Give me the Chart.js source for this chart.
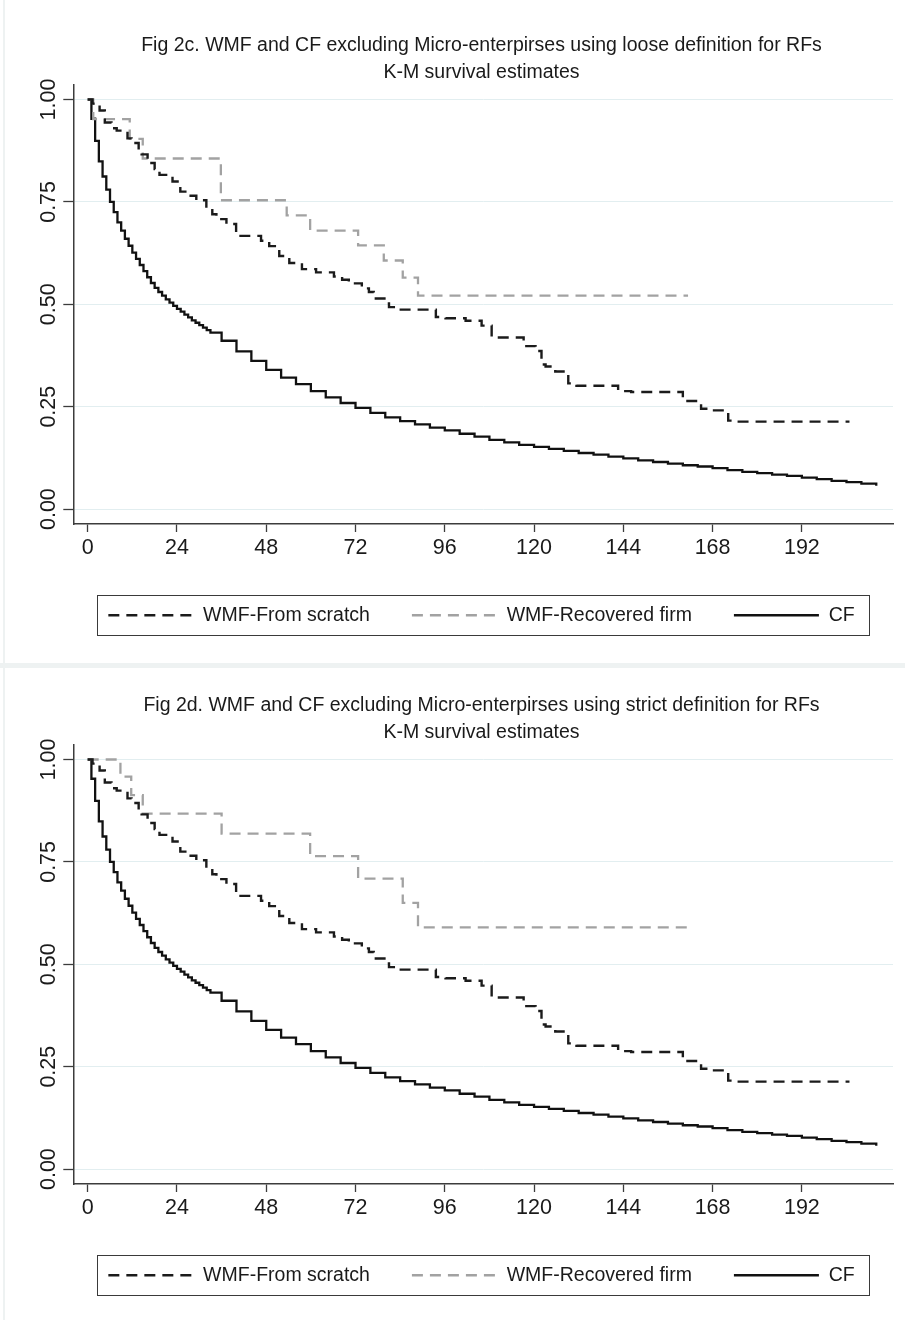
<!DOCTYPE html>
<html>
<head>
<meta charset="utf-8">
<script src="https://cdn.jsdelivr.net/npm/chart.js@4.4.1/dist/chart.umd.min.js"></script>
<style>
  html, body { margin: 0; padding: 0; background: #ffffff; }
  #page { position: relative; width: 905px; height: 1320px; overflow: hidden; background: #ffffff; }
  .panel { position: absolute; left: 0; width: 905px; height: 660px; }
  .panel canvas { position: absolute; left: 0; top: 0; }
  .sep { position: absolute; left: 0; top: 663px; width: 905px; height: 5px; background: #eef2f2; }
  .edge { position: absolute; left: 3px; top: 0; width: 2px; height: 1320px; background: #eef2f2; }
</style>
</head>
<body>
<div id="page">
  <div class="panel" style="top:0"><canvas id="fig2c" width="905" height="660"></canvas></div>
  <div class="panel" style="top:660px"><canvas id="fig2d" width="905" height="660"></canvas></div>
  <div class="sep"></div>
  <div class="edge"></div>
</div>
<script>
// ---- labels and ticks ----
const seriesNames = ['WMF-From scratch', 'WMF-Recovered firm', 'CF'];
const monthTicks = [0, 24, 48, 72, 96, 120, 144, 168, 192];
const survivalTicks = [0, 0.25, 0.5, 0.75, 1];
const titleLoose = ['Fig 2c. WMF and CF excluding Micro-enterpirses using loose definition for RFs', 'K-M survival estimates'];
const titleStrict = ['Fig 2d. WMF and CF excluding Micro-enterpirses using strict definition for RFs', 'K-M survival estimates'];

// ---- Kaplan-Meier step estimates (time in months, survival share) ----
const scratchMonths = [0, 1.3, 3.2, 4.6, 6.4, 7.8, 10.7, 11.8, 13.7, 14.5, 16.1, 18.0, 19.3, 22.8, 24.9, 27.3, 29.2, 31.9, 33.5, 34.6, 37.3, 39.9, 46.6, 48.8, 51.5, 54.2, 57.6, 61.4, 66.2, 68.4, 70.2, 73.7, 75.6, 76.9, 80.2, 81.0, 83.6, 93.6, 96.2, 101.6, 105.9, 108.6, 117.2, 120.4, 122.0, 123.1, 125.7, 129.2, 131.4, 142.6, 146.1, 160.0, 164.9, 167.6, 172.2, 174.1, 204.8];
const scratchSurvival = [1.000, 0.990, 0.973, 0.944, 0.930, 0.924, 0.905, 0.894, 0.875, 0.866, 0.845, 0.830, 0.816, 0.800, 0.775, 0.765, 0.754, 0.733, 0.720, 0.708, 0.696, 0.667, 0.655, 0.642, 0.618, 0.601, 0.586, 0.578, 0.568, 0.560, 0.551, 0.539, 0.530, 0.514, 0.502, 0.493, 0.487, 0.469, 0.466, 0.460, 0.448, 0.419, 0.398, 0.386, 0.353, 0.348, 0.336, 0.307, 0.301, 0.288, 0.286, 0.264, 0.245, 0.241, 0.216, 0.2135, 0.2135];

const recoveredLooseMonths = [0, 1.5, 11.3, 14.8, 35.8, 53.5, 59.8, 72.7, 79.6, 84.7, 88.8, 161.4];
const recoveredLooseSurvival = [1.000, 0.952, 0.904, 0.856, 0.754, 0.717, 0.680, 0.644, 0.607, 0.565, 0.521, 0.521];

const recoveredStrictMonths = [0, 8.8, 11.7, 14.8, 36.0, 59.8, 72.7, 84.7, 88.8, 161.4];
const recoveredStrictSurvival = [1.000, 0.958, 0.913, 0.868, 0.819, 0.764, 0.709, 0.650, 0.590, 0.590];

const cfMonths = [0, 1, 2, 3, 4, 5, 6, 7, 8, 9, 10, 11, 12, 13, 14, 15, 16, 17, 18, 19, 20, 21, 22, 23, 24, 25, 26, 27, 28, 29, 30, 31, 32, 33,
  36, 40, 44, 48, 52, 56, 60, 64, 68, 72, 76, 80, 84, 88, 92, 96, 100, 104, 108, 112, 116, 120, 124, 128, 132, 136, 140, 144, 148, 152, 156, 160, 164, 168, 172, 176, 180, 184, 188, 192, 196, 200, 204, 208, 212];
const cfSurvival = [1.000, 0.953, 0.899, 0.849, 0.812, 0.780, 0.750, 0.725, 0.700, 0.680, 0.660, 0.643, 0.626, 0.611, 0.596, 0.581, 0.566, 0.552, 0.540, 0.530, 0.521, 0.512, 0.504, 0.496, 0.489, 0.482, 0.475, 0.468, 0.461, 0.455, 0.449, 0.443, 0.437, 0.431,
  0.411, 0.385, 0.362, 0.340, 0.321, 0.305, 0.288, 0.273, 0.259, 0.247, 0.235, 0.224, 0.215, 0.207, 0.199, 0.192, 0.184, 0.177, 0.169, 0.163, 0.157, 0.152, 0.147, 0.142, 0.137, 0.133, 0.128, 0.124, 0.119, 0.115, 0.111, 0.107, 0.104, 0.100, 0.095, 0.091, 0.088, 0.084, 0.081, 0.077, 0.073, 0.069, 0.066, 0.062, 0.057];

// ---- styling ----
const FONT = "'Liberation Sans', Arial, Helvetica, sans-serif";
const INK = '#1a1a1a';
const AXIS = '#3c3c3c';
const GRID = '#e2eef0';
const TICK_SIZE = 21.5;

function toPoints(xs, ys) {
  return xs.map((x, i) => ({ x: x, y: ys[i] }));
}

// legend entries drawn as short line samples carrying each dataset's dash pattern
function lineLegendLabels(chart) {
  const items = Chart.defaults.plugins.legend.labels.generateLabels(chart);
  items.forEach(item => {
    const ds = chart.data.datasets[item.datasetIndex];
    item.lineDash = ds.borderDash || [];
    item.lineWidth = ds.borderWidth;
    item.strokeStyle = ds.borderColor;
    item.fillStyle = ds.borderColor;
  });
  return items;
}

// framed box around the legend row
const legendFrame = {
  id: 'legendFrame',
  afterDraw(chart) {
    const lg = chart.legend;
    if (!lg || !lg.legendHitBoxes || !lg.legendHitBoxes.length) return;
    const boxes = lg.legendHitBoxes;
    const first = boxes[0];
    const last = boxes[boxes.length - 1];
    const cy = first.top + first.height / 2;
    const x0 = Math.round(first.left - 11) + 0.5;
    const x1 = Math.round(last.left + last.width + 14) + 0.5;
    const y0 = Math.round(cy - 20) + 0.5;
    const ctx = chart.ctx;
    ctx.save();
    ctx.strokeStyle = '#3a3a3a';
    ctx.lineWidth = 1;
    ctx.setLineDash([]);
    ctx.strokeRect(x0, y0, x1 - x0, 40);
    ctx.restore();
  }
};

function buildChart(canvasId, titleLines, recMonths, recSurvival) {
  return new Chart(document.getElementById(canvasId), {
    type: 'line',
    data: {
      datasets: [
        { label: seriesNames[0], data: toPoints(scratchMonths, scratchSurvival),
          borderColor: '#1b1b1b', borderWidth: 2.4, borderDash: [11, 7], stepped: 'before',
          pointRadius: 0, fill: false },
        { label: seriesNames[1], data: toPoints(recMonths, recSurvival),
          borderColor: '#a2a2a2', borderWidth: 2.3, borderDash: [11, 7], stepped: 'before',
          pointRadius: 0, fill: false },
        { label: seriesNames[2], data: toPoints(cfMonths, cfSurvival),
          borderColor: '#111111', borderWidth: 2.3, stepped: 'before',
          pointRadius: 0, fill: false }
      ]
    },
    options: {
      responsive: false,
      animation: false,
      devicePixelRatio: 1,
      layout: { padding: { left: 58, right: 0, top: 0, bottom: 25 } },
      plugins: {
        title: {
          display: true, text: titleLines, color: INK,
          font: { family: FONT, size: 19.5, weight: 'normal', lineHeight: 1.385 },
          padding: { top: 32.5, bottom: -1.5 }
        },
        legend: {
          display: true, position: 'bottom',
          labels: {
            usePointStyle: true, pointStyle: 'line', pointStyleWidth: 85,
            padding: 42, color: INK, font: { family: FONT, size: 19.5 },
            generateLabels: lineLegendLabels
          }
        },
        tooltip: { enabled: false }
      },
      scales: {
        x: {
          type: 'linear', min: -3.87, max: 216.5,
          afterBuildTicks: s => { s.ticks = monthTicks.map(v => ({ value: v })); },
          afterFit: s => { s.height = 39.5; },
          grid: { display: true, drawOnChartArea: false, drawTicks: true, tickLength: 8, tickColor: AXIS, tickWidth: 1.3 },
          border: { display: true, color: AXIS, width: 1.5 },
          ticks: { color: INK, font: { family: FONT, size: TICK_SIZE }, padding: 3, maxRotation: 0, autoSkip: false,
                   callback: v => String(v) }
        },
        y: {
          type: 'linear', min: -0.0364, max: 1.0354,
          afterBuildTicks: s => { s.ticks = survivalTicks.map(v => ({ value: v })); },
          afterFit: s => { s.width = 15.3; },
          grid: { color: GRID, lineWidth: 1, drawTicks: true, tickLength: 10, tickColor: AXIS, tickWidth: 1.3 },
          border: { display: true, color: AXIS, width: 1.5 },
          // vertical labels centred left of the tick marks
          ticks: { color: INK, font: { family: FONT, size: TICK_SIZE }, minRotation: 90, maxRotation: 90,
                   mirror: true, crossAlign: 'center', padding: -45.5, autoSkip: false,
                   callback: v => Number(v).toFixed(2) }
        },
        yPad: {
          type: 'linear', position: 'right', display: true,
          grid: { display: false, drawTicks: false }, border: { display: false },
          ticks: { display: false },
          afterFit: s => { s.width = 12; }
        }
      }
    },
    plugins: [legendFrame]
  });
}

buildChart('fig2c', titleLoose, recoveredLooseMonths, recoveredLooseSurvival);
buildChart('fig2d', titleStrict, recoveredStrictMonths, recoveredStrictSurvival);
</script>
</body>
</html>
